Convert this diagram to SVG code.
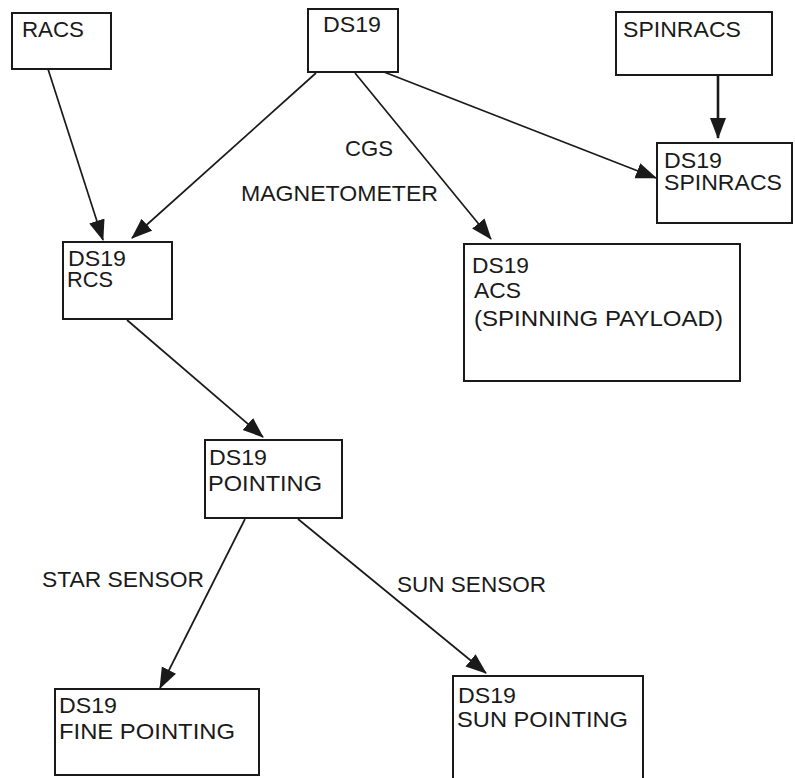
<svg xmlns="http://www.w3.org/2000/svg" width="795" height="778" viewBox="0 0 795 778">
  <style>
    .box { fill: #ffffff; stroke: #1a1a1a; stroke-width: 2; }
    .lbl { font-family: "Liberation Sans", Arial, sans-serif; font-size: 22px; fill: #1a1a1a; }
    .edge { stroke: #1a1a1a; stroke-width: 1.7; fill: none; marker-end: url(#arrow); }
    .edge.bold { stroke-width: 2.6; }
  </style>
  <defs>
    <marker id="arrow" markerUnits="userSpaceOnUse" markerWidth="24" markerHeight="18" refX="20" refY="8" orient="auto">
      <path d="M0,0 L21,8 L0,16 z" fill="#1a1a1a"/>
    </marker>
  </defs>
  <rect width="795" height="778" fill="#ffffff"/>

  <g id="connectors">
    <line class="edge" x1="48" y1="69" x2="103" y2="240"/>
    <line class="edge" x1="316" y1="73" x2="132" y2="238"/>
    <line class="edge" x1="355" y1="73" x2="491" y2="239"/>
    <line class="edge" x1="384" y1="72" x2="656" y2="178"/>
    <line class="edge bold" x1="718" y1="75" x2="718" y2="138"/>
    <line class="edge" x1="127" y1="320" x2="263" y2="437"/>
    <line class="edge" x1="245" y1="519" x2="160" y2="688"/>
    <line class="edge" x1="298" y1="519" x2="486" y2="673"/>
  </g>

  <g id="edge-labels">
    <text class="lbl" x="345" y="156" textLength="48" lengthAdjust="spacingAndGlyphs">CGS</text>
    <text class="lbl" x="241" y="201" textLength="197" lengthAdjust="spacingAndGlyphs">MAGNETOMETER</text>
    <text class="lbl" x="42" y="587" textLength="162" lengthAdjust="spacingAndGlyphs">STAR SENSOR</text>
    <text class="lbl" x="397" y="592" textLength="149" lengthAdjust="spacingAndGlyphs">SUN SENSOR</text>
  </g>

  <g id="racs">
    <rect class="box" x="12" y="13" width="99" height="56"/>
    <text class="lbl" x="22" y="37" textLength="62" lengthAdjust="spacingAndGlyphs">RACS</text>
  </g>

  <g id="ds19">
    <rect class="box" x="308" y="9" width="90" height="63"/>
    <text class="lbl" x="323" y="32" textLength="58" lengthAdjust="spacingAndGlyphs">DS19</text>
  </g>

  <g id="spinracs">
    <rect class="box" x="616" y="12" width="156" height="63"/>
    <text class="lbl" x="623" y="37" textLength="118" lengthAdjust="spacingAndGlyphs">SPINRACS</text>
  </g>

  <g id="ds19-spinracs">
    <rect class="box" x="657" y="143" width="135" height="80"/>
    <text class="lbl" x="664" y="168" textLength="58" lengthAdjust="spacingAndGlyphs">DS19</text>
    <text class="lbl" x="664" y="190" textLength="118" lengthAdjust="spacingAndGlyphs">SPINRACS</text>
  </g>

  <g id="ds19-rcs">
    <rect class="box" x="63" y="242" width="109" height="77"/>
    <text class="lbl" x="68" y="266" textLength="58" lengthAdjust="spacingAndGlyphs">DS19</text>
    <text class="lbl" x="67" y="287" textLength="46" lengthAdjust="spacingAndGlyphs">RCS</text>
  </g>

  <g id="ds19-acs">
    <rect class="box" x="464" y="244" width="276" height="137"/>
    <text class="lbl" x="472" y="273" textLength="57" lengthAdjust="spacingAndGlyphs">DS19</text>
    <text class="lbl" x="474" y="298" textLength="47" lengthAdjust="spacingAndGlyphs">ACS</text>
    <text class="lbl" x="474" y="326" textLength="249" lengthAdjust="spacingAndGlyphs">(SPINNING PAYLOAD)</text>
  </g>

  <g id="ds19-pointing">
    <rect class="box" x="205" y="440" width="137" height="78"/>
    <text class="lbl" x="209" y="465" textLength="58" lengthAdjust="spacingAndGlyphs">DS19</text>
    <text class="lbl" x="208" y="491" textLength="114" lengthAdjust="spacingAndGlyphs">POINTING</text>
  </g>

  <g id="ds19-fine-pointing">
    <rect class="box" x="55" y="689" width="204" height="86"/>
    <text class="lbl" x="59" y="713" textLength="58" lengthAdjust="spacingAndGlyphs">DS19</text>
    <text class="lbl" x="59" y="739" textLength="176" lengthAdjust="spacingAndGlyphs">FINE POINTING</text>
  </g>

  <g id="ds19-sun-pointing">
    <rect class="box" x="453" y="676" width="190" height="120"/>
    <text class="lbl" x="458" y="703" textLength="58" lengthAdjust="spacingAndGlyphs">DS19</text>
    <text class="lbl" x="457" y="727" textLength="171" lengthAdjust="spacingAndGlyphs">SUN POINTING</text>
  </g>
</svg>
